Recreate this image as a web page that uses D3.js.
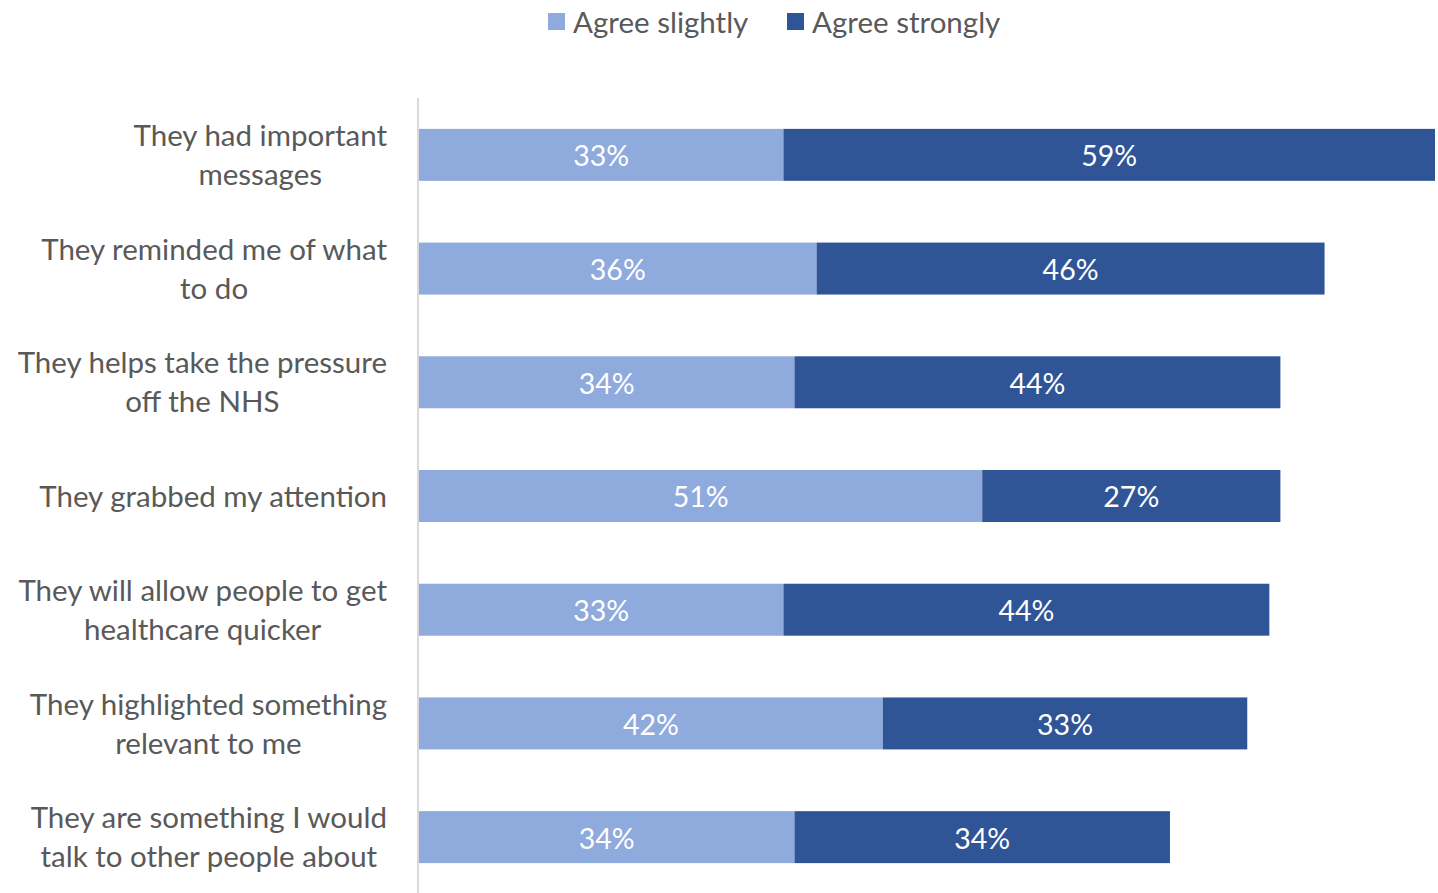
<!DOCTYPE html>
<html>
<head>
<meta charset="utf-8">
<script src="https://cdn.jsdelivr.net/npm/d3@7"></script>
<style>
  html, body { margin: 0; padding: 0; background: #fff; }
  svg { display: block; }
  text { font-family: Lato, "Open Sans", sans-serif; }
</style>
</head>
<body>
<svg id="chart" width="1438" height="893"></svg>
<script>
// Statements, one per row (line breaks mark how each label wraps)
const categories = [
  "They had important\nmessages",
  "They reminded me of what\nto do",
  "They helps take the pressure\noff the NHS",
  "They grabbed my attention",
  "They will allow people to get\nhealthcare quicker",
  "They highlighted something\nrelevant to me",
  "They are something I would\ntalk to other people about"
];
const seriesNames = ["Agree slightly", "Agree strongly"];
const agreeSlightly = [33, 36, 34, 51, 33, 42, 34];
const agreeStrongly = [59, 46, 44, 27, 44, 33, 34];
const seriesColors = ["#8FAADC", "#2F5597"];

const rows = categories.map((c, i) => ({
  category: c,
  "Agree slightly": agreeSlightly[i],
  "Agree strongly": agreeStrongly[i]
}));

const svg = d3.select("#chart");
const margin = { left: 419, top: 98 };
const plotBottom = 894;
const maxTotal = d3.max(rows, d => d["Agree slightly"] + d["Agree strongly"]);

const x = d3.scaleLinear().domain([0, maxTotal]).range([margin.left, 1435]);
const y = d3.scaleBand()
  .domain(categories)
  .range([margin.top, plotBottom])
  .paddingInner(0.543)
  .paddingOuter(0.2715);
const color = d3.scaleOrdinal().domain(seriesNames).range(seriesColors);

const stacked = d3.stack().keys(seriesNames)(rows);

// Stacked bar segments
const layers = svg.append("g").selectAll("g")
  .data(stacked)
  .join("g")
  .attr("fill", s => color(s.key));

layers.selectAll("rect")
  .data(s => s.map(d => ({ key: s.key, d })))
  .join("rect")
  .attr("x", p => x(p.d[0]))
  .attr("y", p => y(p.d.data.category))
  .attr("width", p => x(p.d[1]) - x(p.d[0]))
  .attr("height", y.bandwidth());

// Value labels centred in each segment
layers.selectAll("text")
  .data(s => s.map(d => ({ key: s.key, d })))
  .join("text")
  .attr("x", p => (x(p.d[0]) + x(p.d[1])) / 2)
  .attr("y", p => y(p.d.data.category) + y.bandwidth() / 2)
  .attr("dy", "0.4em")
  .attr("text-anchor", "middle")
  .attr("fill", "#ffffff")
  .attr("font-size", 28.5)
  .text(p => (p.d[1] - p.d[0]) + "%");

// Category axis line
const yAxis = d3.axisLeft(y).tickSize(0).tickFormat("");
const axisG = svg.append("g")
  .attr("transform", `translate(${margin.left - 1},0)`)
  .call(yAxis);
axisG.select(".domain").attr("stroke", "#d9d9d9").attr("stroke-width", 2)
  .attr("d", `M0,${margin.top}V${plotBottom}`);

// Category labels: each block right-aligned, lines centred within it
const labelRight = 387;
const lineGap = 39;
const labels = svg.append("g")
  .attr("fill", "#595959")
  .attr("font-size", 29.5);

categories.forEach(c => {
  const lines = c.split("\n");
  const g = labels.append("g");
  const texts = lines.map((ln, i) =>
    g.append("text")
      .attr("text-anchor", "middle")
      .attr("dy", "0.36em")
      .attr("y", y(c) + y.bandwidth() / 2 + (i - (lines.length - 1) / 2) * lineGap)
      .text(ln)
  );
  const maxW = d3.max(texts, t => t.node().getComputedTextLength());
  texts.forEach(t => t.attr("x", labelRight - maxW / 2));
});

// Legend
const legendItems = [
  { name: seriesNames[0], x: 548 },
  { name: seriesNames[1], x: 787 }
];
const legend = svg.append("g").selectAll("g")
  .data(legendItems)
  .join("g")
  .attr("transform", d => `translate(${d.x},0)`);
legend.append("rect")
  .attr("x", 0).attr("y", 13)
  .attr("width", 17).attr("height", 17)
  .attr("fill", d => color(d.name));
legend.append("text")
  .attr("x", 25).attr("y", 22)
  .attr("dy", "0.36em")
  .attr("fill", "#595959")
  .attr("font-size", 29.5)
  .text(d => d.name);
</script>
</body>
</html>
